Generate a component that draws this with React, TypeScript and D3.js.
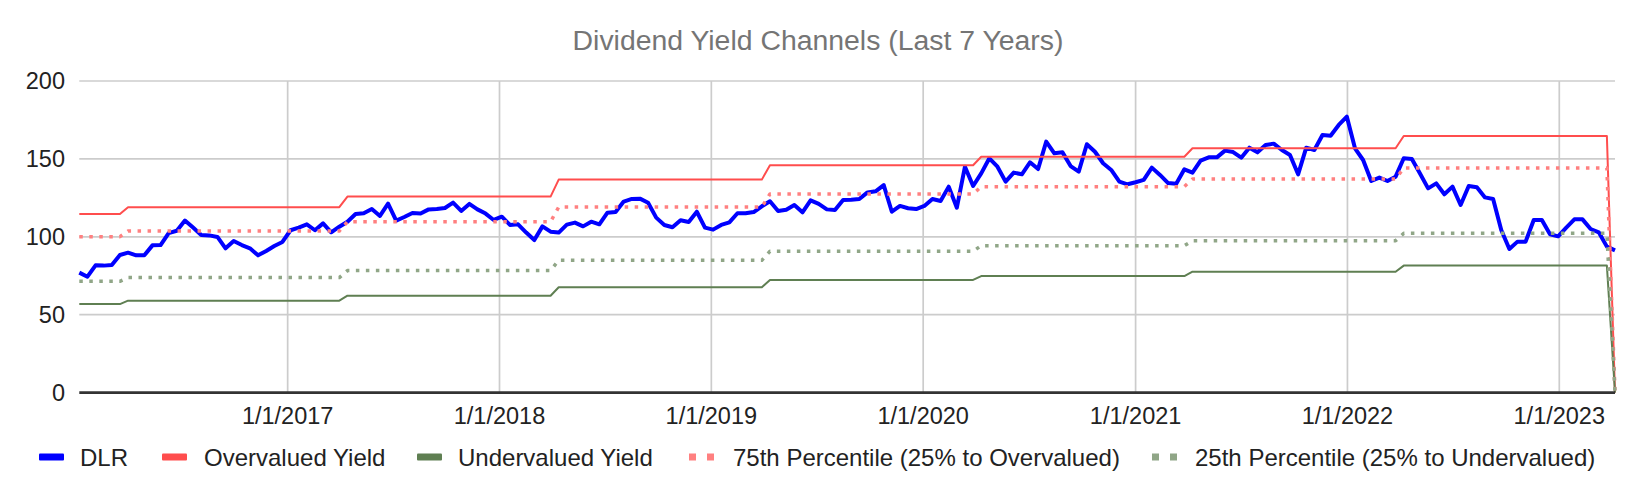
import { scaleLinear, scaleTime, line, timeDay, timeYear, timeFormat } from 'd3'

// biweekly closes, first point 2016-01-08
const startDate = new Date(2016, 0, 8)
const stepDays = 14

const dlr = [
  77.0, 74.4, 81.7, 81.5, 81.9, 88.3, 89.8, 88.1, 88.1, 94.5, 94.7, 102.4, 103.9, 110.4, 105.9, 101.2,
  100.9, 99.9, 92.6, 97.3, 94.7, 92.6, 88.1, 90.9, 94.1, 96.7, 104.2, 105.9, 108.0, 104.2, 108.6, 102.9,
  106.5, 109.7, 114.6, 115.1, 117.8, 113.4, 121.3, 110.4, 112.7, 115.3, 114.9, 117.6, 117.8, 118.5, 121.9,
  116.6, 121.1, 117.6, 114.9, 110.8, 112.9, 107.6, 108.0, 102.7, 97.9, 106.7, 103.3, 102.7, 107.8, 109.1,
  106.7, 109.7, 108.0, 115.5, 115.9, 122.6, 124.3, 124.5, 121.9, 112.3, 107.6, 106.1, 110.6, 109.5, 116.1,
  105.9, 104.6, 107.6, 109.3, 115.1, 115.1, 115.9, 119.6, 122.8, 116.6, 117.4, 120.4, 115.7, 123.4, 121.1,
  117.6, 117.2, 123.6, 123.8, 124.3, 128.5, 129.2, 133.2, 116.1, 119.8, 118.3, 117.8, 119.8, 124.3, 123.0,
  132.2, 118.7, 145.0, 132.6, 140.7, 150.4, 145.0, 135.4, 141.2, 140.1, 147.8, 143.5, 161.1, 153.6, 154.2,
  145.4, 141.8, 159.4, 154.6, 147.2, 142.9, 135.4, 133.7, 135.0, 136.5, 144.4, 139.7, 134.5, 134.1, 143.3,
  141.2, 148.9, 151.0, 151.0, 155.3, 154.4, 150.8, 157.2, 154.2, 158.9, 159.8, 155.7, 152.5, 140.1, 157.2,
  155.7, 165.3, 164.9, 171.8, 177.1, 156.8, 149.3, 135.8, 138.0, 135.8, 138.6, 150.4, 149.9, 140.7, 131.1,
  134.3, 127.3, 132.2, 120.4, 132.6, 131.8, 125.3, 124.3, 104.4, 92.2, 96.9, 96.9, 110.8, 110.8, 101.6,
  100.3, 105.9, 111.2, 111.2, 105.0, 102.9, 93.7, 91.3,
]

// channel levels as [number of points, value]; the last row is empty in the sheet (0)
const overvaluedRuns: [number, number][] = [
  [6, 114.6], [27, 119.0], [26, 125.8], [26, 136.7], [26, 145.9], [26, 151.4], [26, 156.8], [26, 164.7], [1, 0],
]
const undervaluedRuns: [number, number][] = [
  [6, 56.8], [27, 59.0], [26, 62.2], [26, 67.6], [26, 72.3], [26, 74.8], [26, 77.6], [26, 81.5], [1, 0],
]
const p75Runs: [number, number][] = [
  [6, 100.1], [27, 103.7], [26, 109.7], [26, 119.1], [26, 127.5], [26, 132.2], [26, 137.1], [26, 144.2], [1, 0],
]
const p25Runs: [number, number][] = [
  [6, 71.4], [27, 73.8], [26, 78.3], [26, 84.9], [26, 90.7], [26, 94.3], [26, 97.5], [26, 102.2], [1, 0],
]

const yTicks = [0, 50, 100, 150, 200]

const expand = (runs: [number, number][]) => runs.flatMap(([n, v]) => Array(n).fill(v) as number[])

const dates = dlr.map((_, i) => timeDay.offset(startDate, i * stepDays))

const FONT = '"Liberation Sans", Arial, sans-serif'

interface Series {
  name: string
  values: number[]
  color: string
  width: number
  dash?: string
}

const series: Series[] = [
  { name: 'DLR', values: dlr, color: '#0000ff', width: 4 },
  { name: 'Overvalued Yield', values: expand(overvaluedRuns), color: '#ff4d4d', width: 2 },
  { name: 'Undervalued Yield', values: expand(undervaluedRuns), color: '#5f7f52', width: 2 },
  { name: '75th Percentile (25% to Overvalued)', values: expand(p75Runs), color: '#ff8080', width: 3.5, dash: '3.5 6.5' },
  { name: '25th Percentile (25% to Undervalued)', values: expand(p25Runs), color: '#90a687', width: 3.5, dash: '3.5 6.5' },
]

// legend layout
const legendSwatchX = [39, 162, 417, 689, 1152]
const legendTextX = [80, 204, 458, 733, 1195]

const App = () => {
  const width = 1640
  const height = 494
  const left = 79.3
  const right = 1615
  const top = 81
  const bottom = 392.6

  const x = scaleTime().domain([dates[0], dates[dates.length - 1]]).range([left, right])
  const y = scaleLinear().domain([0, 200]).range([bottom, top])
  const yearTicks = timeYear.range(new Date(2017, 0, 1), new Date(2023, 0, 2))
  const fmt = timeFormat('%-m/%-d/%Y')

  const path = line<number>()
    .x((_, i) => x(dates[i]))
    .y((d) => y(d))

  return (
    <svg
      width={width}
      height={height}
      style={{ position: 'absolute', left: 0, top: 0, background: '#fff', fontFamily: FONT }}
    >
      <rect width={width} height={height} fill="#fff" />
      <text x={818} y={50} textAnchor="middle" fontSize={28.4} fill="#757575">
        Dividend Yield Channels (Last 7 Years)
      </text>

      {/* grid */}
      {yTicks.filter((t) => t > 0).map((t) => (
        <line key={t} x1={left} x2={right} y1={y(t)} y2={y(t)} stroke="#cccccc" strokeWidth={1.7} />
      ))}
      {yearTicks.map((d) => (
        <line key={+d} x1={x(d)} x2={x(d)} y1={top} y2={bottom} stroke="#cccccc" strokeWidth={1.7} />
      ))}
      {yTicks.map((t) => (
        <text key={t} x={65} y={y(t) + 8} textAnchor="end" fontSize={23.5} fill="#222">
          {t}
        </text>
      ))}
      {yearTicks.map((d) => (
        <text key={+d} x={x(d)} y={424} textAnchor="middle" fontSize={23.5} fill="#222">
          {fmt(d)}
        </text>
      ))}

      {/* series */}
      {series.map((s) => (
        <path
          key={s.name}
          d={path(s.values) ?? ''}
          fill="none"
          stroke={s.color}
          strokeWidth={s.width}
          strokeDasharray={s.dash}
          strokeLinejoin="round"
        />
      ))}
      <line x1={left} x2={right} y1={y(0)} y2={y(0)} stroke="#333" strokeWidth={2.6} />

      {/* legend */}
      {series.map((s, i) =>
        s.dash ? (
          <g key={s.name}>
            <rect x={legendSwatchX[i]} y={453.5} width={7} height={7} fill={s.color} />
            <rect x={legendSwatchX[i] + 18} y={453.5} width={7} height={7} fill={s.color} />
          </g>
        ) : (
          <rect key={s.name} x={legendSwatchX[i]} y={453.5} width={25} height={7} rx={1} fill={s.color} />
        )
      )}
      {series.map((s, i) => (
        <text key={s.name} x={legendTextX[i]} y={465.5} fontSize={24} fill="#222">
          {s.name}
        </text>
      ))}
    </svg>
  )
}

export default App
